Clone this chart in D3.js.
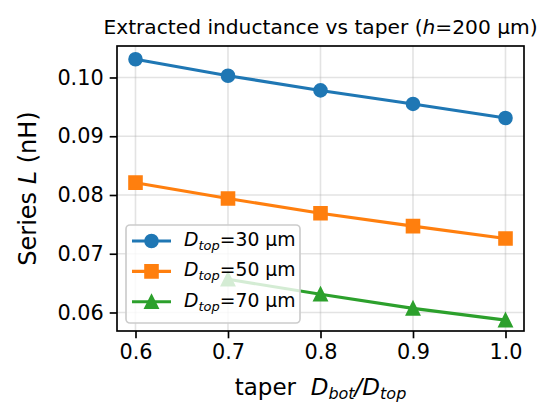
<!DOCTYPE html>
<html>
<head>
<meta charset="utf-8">
<script src="https://cdn.jsdelivr.net/npm/d3@7"></script>
<style>
  body { margin: 0; background: #fff; }
  text { font-family: "DejaVu Sans", sans-serif; }
</style>
</head>
<body>
<div id="chart"></div>
<script>
// data
var tapers = [0.6, 0.7, 0.8, 0.9, 1.0];
var d30 = [0.1031, 0.1003, 0.0978, 0.0955, 0.0931];
var d50 = [0.0821, 0.0794, 0.0769, 0.0747, 0.0726];
var tapers70 = [0.7, 0.8, 0.9, 1.0];
var d70 = [0.06565, 0.0631, 0.0607, 0.0587];
var xTicks = [0.6, 0.7, 0.8, 0.9, 1.0];
var yTicks = [0.06, 0.07, 0.08, 0.09, 0.10];
var labels = ["30", "50", "70"];

var series = [
    { name: labels[0], xs: tapers, ys: d30, color: "#1f77b4", marker: "circle" },
    { name: labels[1], xs: tapers, ys: d50, color: "#ff7f0e", marker: "square" },
    { name: labels[2], xs: tapers70, ys: d70, color: "#2ca02c", marker: "triangle" }
];

// set the dimensions and margins of the graph
var W = 550, H = 403;
var margin = { top: 46, right: 26, bottom: 72, left: 117 },
    width = W - margin.left - margin.right,
    height = H - margin.top - margin.bottom;

var svg = d3.select("#chart")
    .append("svg")
    .attr("width", W)
    .attr("height", H);

var g = svg.append("g")
    .attr("transform", "translate(" + margin.left + "," + margin.top + ")");

var x = d3.scaleLinear().domain([0.58, 1.02]).range([0, width]);
var y = d3.scaleLinear().domain([0.05685, 0.10536]).range([height, 0]);

// grid
g.append("g").selectAll("line").data(xTicks).join("line")
    .attr("x1", d => x(d)).attr("x2", d => x(d))
    .attr("y1", 0).attr("y2", height)
    .attr("stroke", "#b0b0b0").attr("stroke-opacity", 0.35).attr("stroke-width", 1.6);
g.append("g").selectAll("line").data(yTicks).join("line")
    .attr("y1", d => y(d)).attr("y2", d => y(d))
    .attr("x1", 0).attr("x2", width)
    .attr("stroke", "#b0b0b0").attr("stroke-opacity", 0.35).attr("stroke-width", 1.6);

var msize = 12.5;
function markerPath(type, s) {
    var h = s / 2;
    if (type == "circle") return d3.symbol(d3.symbolCircle, Math.PI * h * h)();
    if (type == "square") return "M" + (-h) + "," + (-h) + "H" + h + "V" + h + "H" + (-h) + "Z";
    return "M0," + (-h) + "L" + h + "," + h + "L" + (-h) + "," + h + "Z";
}

var line = d3.line().x(d => x(d[0])).y(d => y(d[1]));

series.forEach(function (s) {
    var pts = s.xs.map((v, i) => [v, s.ys[i]]);
    g.append("path")
        .attr("d", line(pts))
        .attr("fill", "none")
        .attr("stroke", s.color)
        .attr("stroke-width", 3.1);
    g.append("g").selectAll("path").data(pts).join("path")
        .attr("transform", d => "translate(" + x(d[0]) + "," + y(d[1]) + ")")
        .attr("d", markerPath(s.marker, msize))
        .attr("fill", s.color)
        .attr("stroke", s.color)
        .attr("stroke-width", 2.1);
});

// axes
var xAxis = g.append("g")
    .attr("transform", "translate(0," + height + ")")
    .call(d3.axisBottom(x).tickValues(xTicks).tickFormat(d3.format(".1f")).tickSizeOuter(0).tickSize(7.3).tickPadding(6));
var yAxis = g.append("g")
    .call(d3.axisLeft(y).tickValues(yTicks).tickFormat(d3.format(".2f")).tickSizeOuter(0).tickSize(7.3).tickPadding(6));
[xAxis, yAxis].forEach(function (a) {
    a.select(".domain").remove();
    a.selectAll(".tick line").attr("stroke", "#000").attr("stroke-width", 1.67);
    a.selectAll(".tick text").attr("fill", "#000")
        .style("font-size", "20.8px").style("font-family", "DejaVu Sans");
});

// frame
g.append("rect")
    .attr("width", width).attr("height", height)
    .attr("fill", "none").attr("stroke", "#000").attr("stroke-width", 1.67);

// legend
var leg = svg.append("g").attr("transform", "translate(126,225)");
leg.append("rect")
    .attr("width", 174).attr("height", 98).attr("rx", 4)
    .attr("fill", "#fff").attr("fill-opacity", 0.8)
    .attr("stroke", "#cccccc").attr("stroke-width", 1.67);
series.forEach(function (s, i) {
    var cy = 16 + i * 30.4;
    leg.append("line")
        .attr("x1", 6).attr("x2", 45).attr("y1", cy).attr("y2", cy)
        .attr("stroke", s.color).attr("stroke-width", 3.1);
    leg.append("path")
        .attr("transform", "translate(25.5," + cy + ")")
        .attr("d", markerPath(s.marker, msize))
        .attr("fill", s.color).attr("stroke", s.color).attr("stroke-width", 2.1);
    var t = leg.append("text")
        .attr("x", 58).attr("y", cy + 5)
        .style("font-size", "18.75px").attr("fill", "#000");
    t.append("tspan").style("font-style", "italic").text("D");
    t.append("tspan").style("font-style", "italic").style("font-size", "13px").attr("dy", 4).text("top");
    t.append("tspan").attr("dy", -4).text("=" + s.name + " μm");
});

// title
var title = svg.append("text")
    .attr("x", margin.left + width / 2).attr("y", 33.5)
    .attr("text-anchor", "middle")
    .style("font-size", "20.2px").attr("fill", "#000");
title.append("tspan").text("Extracted inductance vs taper (");
title.append("tspan").style("font-style", "italic").text("h");
title.append("tspan").text("=200 μm)");

// axis labels
var xl = svg.append("text")
    .attr("x", margin.left + width / 2).attr("y", 395)
    .attr("text-anchor", "middle")
    .style("font-size", "23px").attr("fill", "#000");
xl.append("tspan").text("taper  ").attr("xml:space", "preserve").style("white-space", "pre");
xl.append("tspan").style("font-style", "italic").text("D");
xl.append("tspan").style("font-style", "italic").style("font-size", "16px").attr("dy", 3.5).text("bot");
xl.append("tspan").style("font-style", "italic").attr("dy", -3.5).text("/D");
xl.append("tspan").style("font-style", "italic").style("font-size", "16px").attr("dy", 3.5).text("top");

var yl = svg.append("text")
    .attr("transform", "translate(36," + (margin.top + height / 2) + ") rotate(-90)")
    .attr("text-anchor", "middle")
    .style("font-size", "24px").attr("fill", "#000");
yl.append("tspan").text("Series ");
yl.append("tspan").style("font-style", "italic").text("L");
yl.append("tspan").text(" (nH)");
</script>
</body>
</html>
